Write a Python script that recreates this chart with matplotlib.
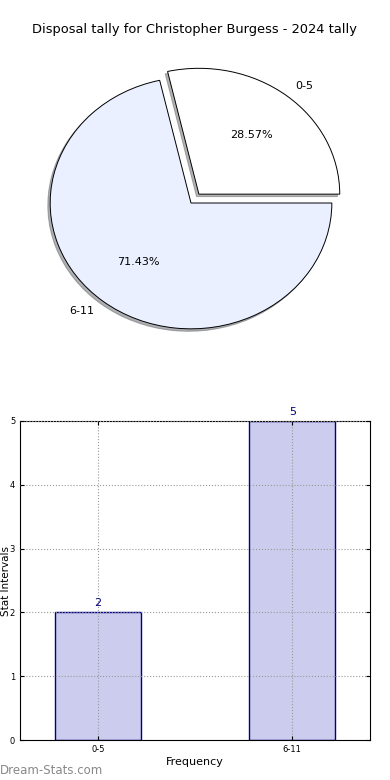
import matplotlib
matplotlib.use("Agg")
import matplotlib.pyplot as plt

title = "Disposal tally for Christopher Burgess - 2024 tally"
categories = ["0-5", "6-11"]
counts = [2, 5]
pie_colors = ["#ffffff", "#eaf0ff"]
explode = [0.09, 0.0]

fig = plt.figure(figsize=(3.9, 7.8), dpi=100)
fig.text(0.5, 1 - 30 / 780, title, ha="center", va="center", fontsize=9.4)

# ---- pie ----
ax1 = fig.add_axes([22 / 390, (780 - 354) / 780, 338 / 390, 302 / 780])
ax1.pie(counts, labels=categories, colors=pie_colors, explode=explode,
        autopct="%1.2f%%", pctdistance=0.6, labeldistance=1.1,
        startangle=0, shadow={"ox": -0.012, "oy": -0.014, "shade": 0.6},
        wedgeprops=dict(edgecolor="black", linewidth=0.7),
        textprops=dict(fontsize=8))
ax1.set_aspect("auto")
ax1.set_xlim(-1.2, 1.2)
ax1.set_ylim(-1.2, 1.2)
ax1.axis("off")

# ---- bars ----
ax2 = fig.add_axes([20 / 390, 40 / 780, 350 / 390, 319 / 780])
x = list(range(len(categories)))
bars = ax2.bar(x, counts, width=0.44, color="#ccccee", edgecolor="#000080",
               linewidth=1, zorder=1)
for xi, c in zip(x, counts):
    ax2.text(xi, c + 0.07, str(c), ha="center", va="bottom",
             fontsize=8, color="#000080")
ax2.set_xlim(-0.4, 1.4)
ax2.set_ylim(0, 5)
ax2.set_xticks(x)
ax2.set_xticklabels(categories)
ax2.set_yticks(range(0, 6))
ax2.tick_params(direction="in", top=True, right=True, labelsize=6, length=3)
ax2.grid(True, linestyle=":", color="#999999", linewidth=0.8, zorder=2)
ax2.set_axisbelow(False)
ax2.set_xlabel("Frequency", fontsize=8, labelpad=2)
ax2.set_ylabel("Stat Intervals", fontsize=7.5)
ax2.yaxis.set_label_coords(-0.025, 0.5)

fig.text(0.0, 1 - 771 / 780, "Dream-Stats.com", fontsize=8.5,
         color="#888888", ha="left", va="center")

fig.savefig("out.png", dpi=100)
